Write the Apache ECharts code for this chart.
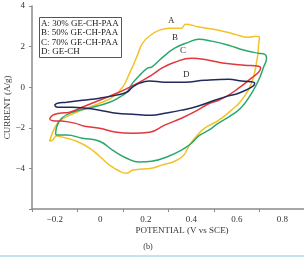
<!DOCTYPE html>
<html>
<head>
<meta charset="utf-8">
<script src="https://cdn.jsdelivr.net/npm/echarts@6/dist/echarts.min.js"></script>
<style>
  html, body { margin: 0; padding: 0; background: #fff; }
  #chart { width: 304px; height: 257px; }
</style>
</head>
<body>
<div id="chart"></div>
<script>
// legend text
const legendLines = ['A: 30% GE-CH-PAA', 'B: 50% GE-CH-PAA', 'C: 70% GE-CH-PAA', 'D: GE-CH']

// A: 30% GE-CH-PAA (loop, clockwise from left tip)
const aPotential = [-0.223, -0.201, -0.179, -0.135, -0.069, -0.003, 0.054, 0.098, 0.129, 0.160, 0.186, 0.221, 0.261, 0.305, 0.357, 0.375, 0.436, 0.520, 0.590, 0.652, 0.683, 0.700, 0.696, 0.691, 0.665, 0.621, 0.577, 0.520, 0.459, 0.415, 0.389, 0.367, 0.327, 0.270, 0.226, 0.142, 0.116, 0.085, 0.041, -0.003, -0.047, -0.104, -0.166, -0.192, -0.210, -0.223]
const aCurrent = [-2.66, -2.02, -1.67, -1.38, -1.08, -0.79, -0.49, 0.0, 0.69, 1.48, 2.17, 2.56, 2.81, 2.91, 2.91, 3.10, 2.96, 2.81, 2.61, 2.46, 2.51, 2.46, 2.07, 1.48, 0.20, -0.64, -1.13, -1.63, -2.02, -2.51, -2.91, -3.35, -3.65, -3.84, -3.99, -4.09, -4.24, -4.14, -3.84, -3.40, -3.00, -2.66, -2.46, -2.41, -2.61, -2.66]

// B: 50% GE-CH-PAA
const bPotential = [-0.196, -0.192, -0.170, -0.122, -0.034, 0.041, 0.085, 0.116, 0.142, 0.173, 0.208, 0.226, 0.270, 0.327, 0.389, 0.432, 0.490, 0.564, 0.634, 0.696, 0.722, 0.731, 0.718, 0.696, 0.665, 0.621, 0.577, 0.520, 0.477, 0.432, 0.401, 0.357, 0.300, 0.226, 0.173, 0.116, 0.054, -0.003, -0.078, -0.148, -0.192, -0.196]
const bCurrent = [-2.32, -1.97, -1.53, -1.23, -0.99, -0.74, -0.49, -0.25, 0.20, 0.59, 0.94, 0.99, 1.43, 1.92, 2.22, 2.36, 2.27, 2.07, 1.82, 1.67, 1.63, 1.43, 0.99, 0.34, -0.30, -0.99, -1.38, -1.77, -2.12, -2.41, -2.76, -3.10, -3.40, -3.65, -3.69, -3.50, -3.10, -2.66, -2.51, -2.36, -2.36, -2.32]

// C: 70% GE-CH-PAA
const cPotential = [-0.223, -0.209, -0.179, -0.135, -0.069, -0.003, 0.072, 0.129, 0.173, 0.226, 0.270, 0.327, 0.401, 0.477, 0.547, 0.634, 0.696, 0.705, 0.696, 0.652, 0.608, 0.564, 0.520, 0.472, 0.428, 0.357, 0.283, 0.217, 0.142, 0.072, -0.003, -0.069, -0.113, -0.170, -0.209, -0.223]
const cCurrent = [-1.58, -1.38, -1.28, -1.23, -0.94, -0.64, -0.30, 0.0, 0.25, 0.59, 0.94, 1.23, 1.43, 1.33, 1.18, 1.08, 1.03, 0.94, 0.74, 0.34, -0.05, -0.39, -0.64, -0.84, -1.13, -1.53, -1.87, -2.22, -2.27, -2.22, -2.02, -1.92, -1.77, -1.67, -1.65, -1.58]

// D: GE-CH
const dPotential = [-0.201, -0.188, -0.148, -0.078, -0.003, 0.072, 0.116, 0.142, 0.173, 0.217, 0.283, 0.371, 0.459, 0.564, 0.621, 0.679, 0.665, 0.608, 0.560, 0.503, 0.428, 0.357, 0.283, 0.226, 0.142, 0.072, -0.003, -0.122, -0.188, -0.201]
const dCurrent = [-0.89, -0.79, -0.74, -0.64, -0.54, -0.39, -0.25, 0.0, 0.20, 0.30, 0.25, 0.25, 0.34, 0.39, 0.30, 0.20, 0.0, -0.30, -0.44, -0.64, -0.94, -1.13, -1.28, -1.38, -1.33, -1.28, -1.13, -0.99, -0.99, -0.89]

const xLabels = [-0.2, 0, 0.2, 0.4, 0.6, 0.8]
const xTicks = [-0.3, -0.1, 0.1, 0.3, 0.5, 0.7, 0.9]
const yLabels = [-4, -2, 0, 2, 4]

const pairs = (xs, ys) => xs.map((x, i) => [x, ys[i]])
const minus = v => String(v).replace('-', '\u2212')

const serif = 'Liberation Serif'
const axisGrey = '#8a8a8a'

const makeLine = (name, xs, ys, color) => ({
    name: name,
    type: 'line',
    data: pairs(xs, ys),
    smooth: 0.45,
    showSymbol: false,
    lineStyle: { color: color, width: 1.5 },
    z: 3
})

const chart = echarts.init(document.getElementById('chart'))
const option = {
    animation: false,
    grid: { left: 32, top: 6, width: 273, height: 203, containLabel: false, outerBoundsMode: 'none' },
    xAxis: {
        type: 'value',
        min: -0.3,
        max: 0.9,
        axisLine: { show: true, onZero: false, lineStyle: { color: axisGrey, width: 1.5 } },
        axisTick: { show: true, customValues: xTicks, length: 3, lineStyle: { color: axisGrey } },
        axisLabel: {
            customValues: xLabels,
            formatter: minus,
            fontFamily: serif, fontSize: 9, color: '#333', margin: 6
        },
        splitLine: { show: false }
    },
    yAxis: {
        type: 'value',
        min: -6,
        max: 4,
        interval: 2,
        name: 'CURRENT (A/g)',
        nameLocation: 'middle',
        nameGap: 20,
        nameMoveOverlap: false,
        nameTextStyle: { fontFamily: serif, fontSize: 9, color: '#333' },
        axisLine: { show: true, onZero: false, lineStyle: { color: axisGrey, width: 1.5 } },
        axisTick: { show: true, length: 3, lineStyle: { color: axisGrey } },
        axisLabel: {
            customValues: yLabels,
            formatter: minus,
            fontFamily: serif, fontSize: 9, color: '#333', margin: 7
        },
        splitLine: { show: false }
    },
    series: [
        makeLine('A', aPotential, aCurrent, '#f2c22a'),
        makeLine('B', bPotential, bCurrent, '#2aa86c'),
        makeLine('C', cPotential, cCurrent, '#e0383c'),
        makeLine('D', dPotential, dCurrent, '#1e2b5c')
    ],
    graphic: [
        {
            type: 'rect', left: 39, top: 17,
            shape: { width: 82, height: 40 },
            style: { fill: '#fff', stroke: '#555', lineWidth: 1 }, z: 10
        },
        ...legendLines.map((t, i) => ({
            type: 'text', left: 41, top: 19 + i * 9.5,
            style: { text: t, font: '9px "Liberation Serif"', fill: '#222' }, z: 11
        })),
        { type: 'text', left: 168, top: 16, style: { text: 'A', font: '9px "Liberation Serif"', fill: '#333' } },
        { type: 'text', left: 172, top: 33, style: { text: 'B', font: '9px "Liberation Serif"', fill: '#333' } },
        { type: 'text', left: 180, top: 46, style: { text: 'C', font: '9px "Liberation Serif"', fill: '#333' } },
        { type: 'text', left: 183, top: 70, style: { text: 'D', font: '9px "Liberation Serif"', fill: '#333' } },
        {
            type: 'text', x: 182, y: 231,
            style: { text: 'POTENTIAL (V vs SCE)', font: '9px "Liberation Serif"', fill: '#333', align: 'center', verticalAlign: 'middle' }
        },
        {
            type: 'text', x: 148, y: 247,
            style: { text: '(b)', font: '8px "Liberation Serif"', fill: '#333', align: 'center', verticalAlign: 'middle' }
        },
        {
            type: 'rect', left: 0, top: 255,
            shape: { width: 304, height: 2 },
            style: { fill: '#bfe5f0' }
        }
    ]
}
chart.setOption(option)
</script>
</body>
</html>
